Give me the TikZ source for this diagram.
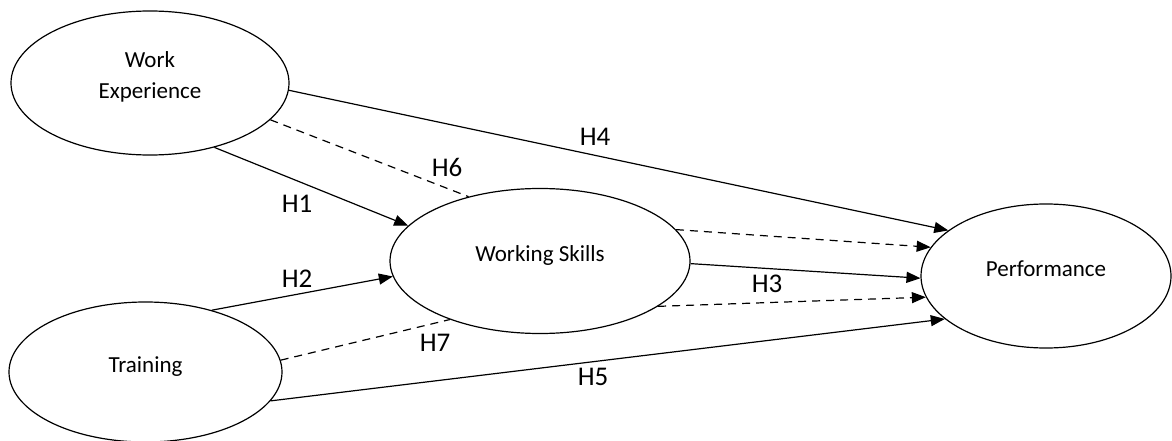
\documentclass[tikz,border=0pt]{standalone}
\usepackage{fontspec}
\setmainfont{Carlito}
\usepackage{tikz}
\usetikzlibrary{shapes,arrows.meta}

\begin{document}
\begin{tikzpicture}[x=1pt,y=-1pt,
    ell/.style={draw,ellipse,line width=1.2pt,inner sep=0pt,text height=0pt,text depth=0pt,font=\fontsize{23}{30}\selectfont},
    hlbl/.style={font=\fontsize{27}{32}\selectfont},
    arr/.style={line width=1.2pt,-{Triangle[length=14pt,width=11pt]}},
    med/.style={line width=1.2pt,dash pattern=on 8pt off 6pt}]
      \useasboundingbox (0,0) rectangle (1172,441);
      \node[ell,minimum width=278pt,minimum height=144pt] (we) at (150,83) {\begin{tabular}{@{}c@{}}Work\\[1pt]Experience\end{tabular}};
      \node[ell,minimum width=273pt,minimum height=140pt] (tr) at (145.5,372) {Training};
      \node[ell,minimum width=300pt,minimum height=145pt] (ws) at (540,261) {Working Skills};
      \node[ell,minimum width=250pt,minimum height=144pt] (perf) at (1046,276) {Performance};
      \draw[arr] (we.-3) -- (perf.155.5);
      \draw[med] (we.-17) -- (ws.138);
      \draw[arr] (we.-45) -- (ws.165.6);
      \draw[arr] (tr.43) -- (ws.-174.6);
      \draw[med] (tr.5.5) -- (ws.-147);
      \draw[arr] (tr.-13.5) -- (perf.203.7);
      \draw[arr] (ws.-1.9) -- (perf.181.4);
      \draw[med,arr] (ws.13) -- (perf.166.5);
      \draw[med,arr] (ws.-21.5) -- (perf.190.8);
      \node[hlbl] (h1) at (297,204) {H1};
      \node[hlbl] (h2) at (297,279) {H2};
      \node[hlbl] (h3) at (767,284) {H3};
      \node[hlbl] (h4) at (595,137) {H4};
      \node[hlbl] (h5) at (593,377) {H5};
      \node[hlbl] (h6) at (447,167) {H6};
      \node[hlbl] (h7) at (435,343) {H7};
   \end{tikzpicture}
\end{document}
